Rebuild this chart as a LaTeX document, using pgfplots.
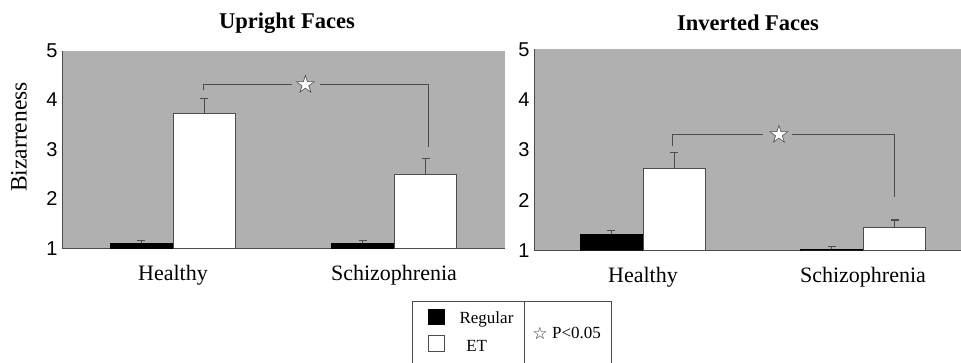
\documentclass[border=0pt]{standalone}
\usepackage{fontspec}
\setmainfont{Liberation Serif}
\setsansfont{Liberation Sans}
\newfontfamily\symfont{DejaVu Sans}
\newfontfamily\symfontb{DejaVu Sans Bold}
\usepackage{pgfplots}
\pgfplotsset{compat=1.18}
\definecolor{panelgray}{gray}{0.69}
\definecolor{edgegray}{gray}{0.3}
\tikzset{starnode/.style={font=\symfontb\fontsize{26}{26}\selectfont}}
\pgfplotsset{
  facestyle/.style={
    scale only axis,
    ybar=1pt,
    bar width=62pt,
    ymin=1, ymax=5,
    ytick={1,2,3,4,5},
    xtick={0,1},
    xticklabels={Healthy,Schizophrenia},
    major tick length=0pt,
    axis x line*=bottom,
    axis y line*=left,
    axis line style={edgegray, line width=1pt},
    axis background/.style={fill=panelgray},
    /pgf/number format/assume math mode=true,
    yticklabel style={font=\sffamily\fontsize{20}{20}\selectfont, xshift=-1pt},
    xticklabel style={font=\fontsize{22}{24}\selectfont, yshift=-13pt},
    error bars/y dir=plus,
    error bars/y explicit,
    error bars/error mark options={rotate=90, mark size=4pt, edgegray, line width=1.2pt},
    error bars/error bar style={edgegray, line width=1.2pt},
    clip=true,
  },
  regular/.style={fill=black, draw=black},
  et/.style={fill=white, draw=edgegray, line width=1pt},
}
\begin{document}
\begin{tikzpicture}
% ---------- Upright Faces ----------
\begin{axis}[facestyle,
  at={(62pt,-248.3pt)}, anchor=south west,
  width=443pt, height=197.8pt,
  xmin=-0.502, xmax=1.502]
\addplot[regular] coordinates {(0,1.107) +- (0,0.045) (1,1.107) +- (0,0.045)};
\addplot[et] coordinates {(0,3.72) +- (0,0.31) (1,2.50) +- (0,0.31)};
\draw[edgegray, line width=1.1pt] (axis cs:0.14,4.20) |- (axis cs:0.537,4.32);
\draw[edgegray, line width=1.1pt] (axis cs:0.665,4.32) -| (axis cs:1.155,3.05);
\node[starnode, text=white] at (axis cs:0.60,4.32) {★};
\node[starnode, text=white!20!black] at (axis cs:0.60,4.32) {☆};
\end{axis}
% ---------- Inverted Faces ----------
\begin{axis}[facestyle,
  at={(534pt,-250.7pt)}, anchor=south west,
  width=430pt, height=201.4pt,
  xmin=-0.495, xmax=1.459]
\addplot[regular] coordinates {(0,1.33) +- (0,0.07) (1,1.03) +- (0,0.06)};
\addplot[et] coordinates {(0,2.64) +- (0,0.31) (1,1.46) +- (0,0.15)};
\draw[edgegray, line width=1.1pt] (axis cs:0.136,3.07) |- (axis cs:0.544,3.31);
\draw[edgegray, line width=1.1pt] (axis cs:0.676,3.31) -| (axis cs:1.145,2.07);
\node[starnode, text=white] at (axis cs:0.618,3.31) {★};
\node[starnode, text=white!20!black] at (axis cs:0.618,3.31) {☆};
\end{axis}
% ---------- titles and label ----------
\node[font=\bfseries\fontsize{22.5}{24}\selectfont] at (287pt,-23pt) {Upright Faces};
\node[font=\bfseries\fontsize{22.5}{24}\selectfont] at (748pt,-23pt) {Inverted Faces};
\node[font=\fontsize{23.5}{24}\selectfont, rotate=90] at (19pt,-137pt) {Bizarreness};
% ---------- legend ----------
\draw[edgegray, line width=0.8pt] (412pt,-375pt) -- (412pt,-301pt) -- (611.7pt,-301pt) -- (611.7pt,-375pt);
\draw[edgegray, line width=0.8pt] (524pt,-301pt) -- (524pt,-375pt);
\fill[black] (428pt,-309pt) rectangle (445pt,-325pt);
\draw[edgegray, line width=0.8pt, fill=white] (428.5pt,-335.5pt) rectangle (444.5pt,-351pt);
\node[font=\fontsize{17}{18}\selectfont] at (486.5pt,-319pt) {Regular};
\node[font=\fontsize{17}{18}\selectfont] at (476.7pt,-346pt) {ET};
\node[font=\symfontb\fontsize{17}{17}\selectfont, text=white!20!black] at (540pt,-333pt) {☆};
\node[font=\fontsize{17}{18}\selectfont, anchor=west, inner sep=0pt] at (552pt,-333pt) {P<0.05};
\pgfresetboundingbox
\path[use as bounding box] (0,0) rectangle (961pt,-362pt);
\end{tikzpicture}
\end{document}
